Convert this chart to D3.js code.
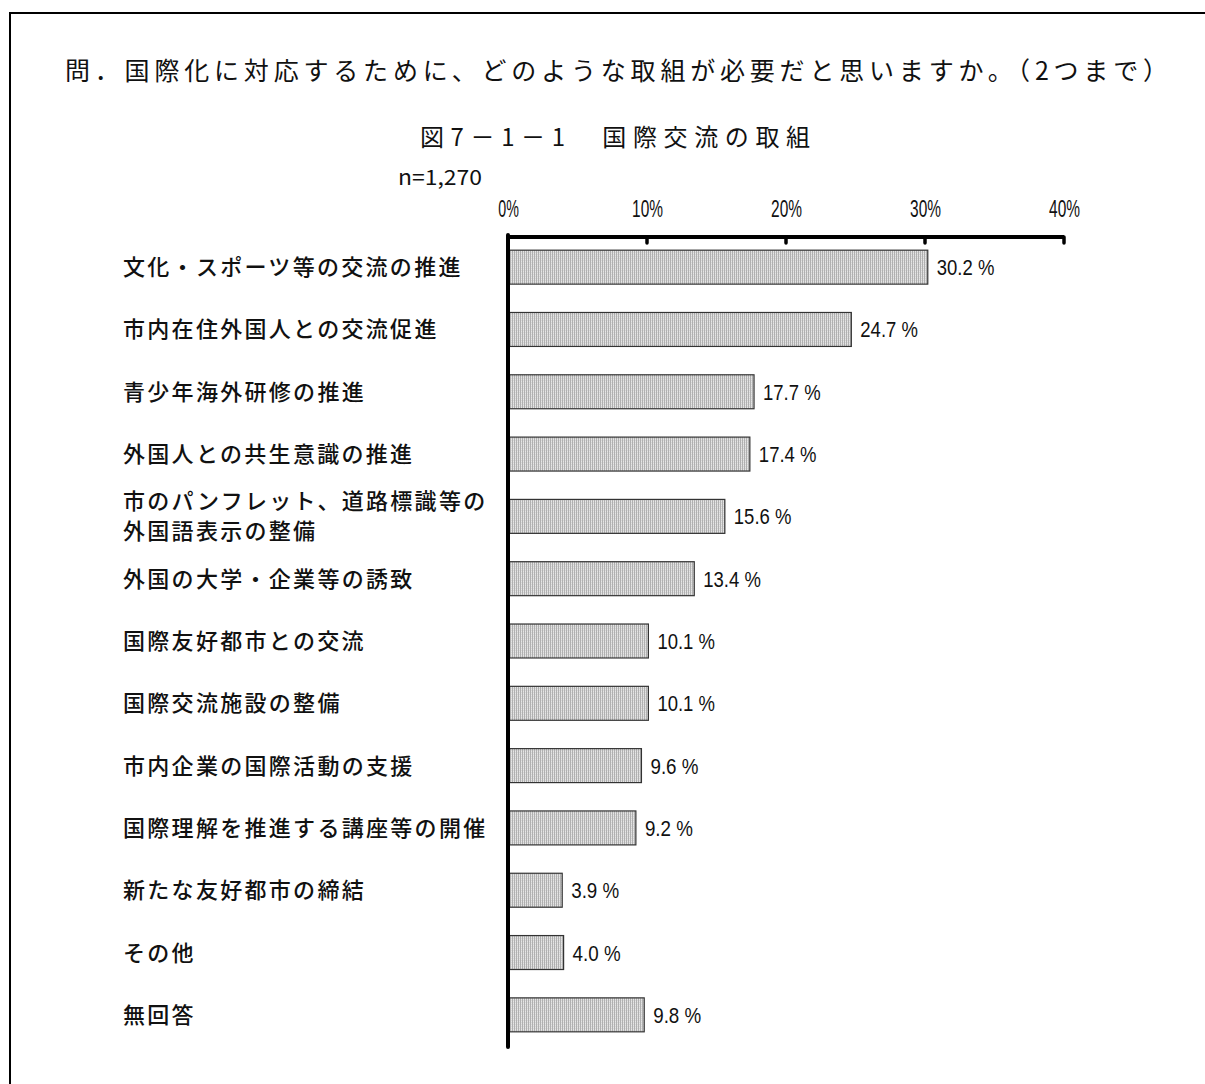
<!DOCTYPE html>
<html><head><meta charset="utf-8">
<script src="https://cdn.jsdelivr.net/npm/d3@7"></script>
<style>
body{margin:0;background:#fff;}
svg{display:block;}
.jp{font-family:"Noto Sans CJK JP","Noto Sans",sans-serif;}
.nar{font-family:"Liberation Sans",Arial,sans-serif;}
</style></head>
<body>
<script>
const categories = [
  ["文化・スポーツ等の交流の推進"],
  ["市内在住外国人との交流促進"],
  ["青少年海外研修の推進"],
  ["外国人との共生意識の推進"],
  ["市のパンフレット、道路標識等の","外国語表示の整備"],
  ["外国の大学・企業等の誘致"],
  ["国際友好都市との交流"],
  ["国際交流施設の整備"],
  ["市内企業の国際活動の支援"],
  ["国際理解を推進する講座等の開催"],
  ["新たな友好都市の締結"],
  ["その他"],
  ["無回答"]
];
const values = [30.2, 24.7, 17.7, 17.4, 15.6, 13.4, 10.1, 10.1, 9.6, 9.2, 3.9, 4.0, 9.8];
const tickValues = [0, 10, 20, 30, 40];
const titleText = "問．国際化に対応するために、どのような取組が必要だと思いますか。（2つまで）";
const subtitleText = "図7－1－1　国際交流の取組";
const nText = "n=1,270";

const W = 1205, H = 1084;
const svg = d3.select("body").append("svg").attr("width", W).attr("height", H);

const defs = svg.append("defs");
const pat = defs.append("pattern").attr("id","stripe").attr("patternUnits","userSpaceOnUse")
  .attr("width",2).attr("height",2);
pat.append("rect").attr("width",2).attr("height",2).attr("fill","#d8d8d8");
pat.append("rect").attr("width",1).attr("height",2).attr("fill","#b0b0b0");
pat.append("rect").attr("x",1).attr("y",1).attr("width",1).attr("height",1).attr("fill","#e6e6e6");

// frame
svg.append("rect").attr("x",10).attr("y",13).attr("width",1240).attr("height",1120)
  .attr("fill","none").attr("stroke","#000").attr("stroke-width",2);

// title
svg.append("text").attr("class","jp").attr("x",65).attr("y",80)
  .attr("font-size",25).attr("textLength",1103).attr("lengthAdjust","spacing")
  .attr("fill","#111").text(titleText);
svg.append("text").attr("class","jp").attr("x",420).attr("y",146)
  .attr("font-size",24).attr("textLength",390).attr("lengthAdjust","spacing")
  .attr("fill","#111").text(subtitleText);
svg.append("text").attr("class","jp").attr("x",398).attr("y",185)
  .attr("font-size",21).attr("textLength",84).attr("lengthAdjust","spacingAndGlyphs")
  .attr("fill","#111").text(nText);

const x = d3.scaleLinear().domain([0,40]).range([508,1064]);
const y = d3.scaleBand().domain(d3.range(values.length)).range([236,1046])
  .paddingInner(0.455).paddingOuter(0.2275);

// bars
const g = svg.append("g");
g.selectAll("rect.bar").data(values).join("rect").attr("class","bar")
  .attr("x", x(0)).attr("y",(d,i)=>y(i))
  .attr("width", d=>x(d)-x(0)).attr("height", y.bandwidth())
  .attr("fill","url(#stripe)").attr("stroke","#333").attr("stroke-width",1.2);

// value labels
g.selectAll("text.val").data(values).join("text").attr("class","nar val")
  .attr("x", d=>x(d)+9).attr("y",(d,i)=>y(i)+y.bandwidth()/2+8)
  .attr("font-size",22).attr("fill","#111")
  .attr("textLength", d=>(d.toFixed(1)+" %").length*9.6).attr("lengthAdjust","spacingAndGlyphs")
  .text(d=>d.toFixed(1)+" %");

// category labels
categories.forEach((lines,i)=>{
  const cy = y(i)+y.bandwidth()/2;
  const lh = 30;
  lines.forEach((ln,k)=>{
    svg.append("text").attr("class","jp").attr("x",123)
      .attr("y", cy + 8 + (k - (lines.length-1)/2)*lh)
      .attr("font-size",22).attr("font-weight",500).attr("letter-spacing",2.3)
      .attr("fill","#111").text(ln);
  });
});

// top axis
const axis = d3.axisTop(x).tickValues(tickValues).tickFormat(d=>d+"%").tickSize(0).tickPadding(20);
const ag = svg.append("g").attr("transform","translate(0,237)").call(axis);
ag.select(".domain").remove();
ag.selectAll("text").attr("class","nar").attr("font-family",null).attr("font-size",24).attr("fill","#111")
  .attr("textLength", function(){ return this.textContent.length*10.3; })
  .attr("lengthAdjust","spacingAndGlyphs");
ag.append("line").attr("x1",x(0)).attr("x2",x(40)).attr("y1",0).attr("y2",0)
  .attr("stroke","#000").attr("stroke-width",4);
ag.selectAll("line.tk").data(tickValues.filter(d=>d>0)).join("line").attr("class","tk")
  .attr("x1",d=>x(d)).attr("x2",d=>x(d)).attr("y1",0).attr("y2",6)
  .attr("stroke","#000").attr("stroke-width",3.5).attr("stroke-linecap","round");

// vertical axis
svg.append("line").attr("x1",x(0)).attr("x2",x(0)).attr("y1",235).attr("y2",1047)
  .attr("stroke","#000").attr("stroke-width",4).attr("stroke-linecap","round");
</script>
</body></html>
